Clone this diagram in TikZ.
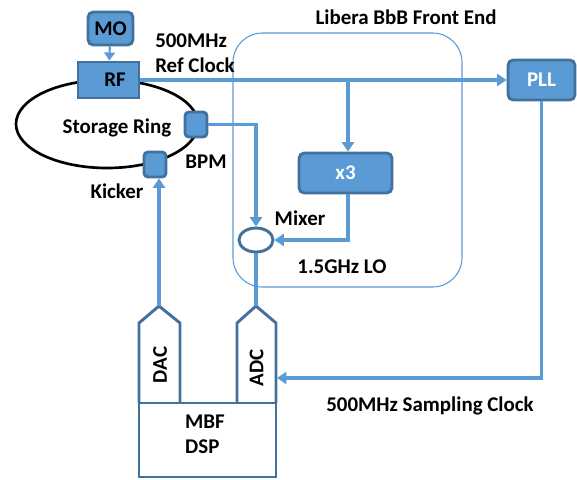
\documentclass[tikz,border=0pt]{standalone}
\usepackage{fontspec}
\setmainfont{Carlito}
\usetikzlibrary{arrows.meta,shapes.geometric}
\definecolor{boxfill}{HTML}{5B9BD5}
\definecolor{boxedge}{HTML}{41719C}
\definecolor{wire}{HTML}{5B9BD5}
\def\px{0.75pt}
\tikzset{
  lbl/.style={font=\fontsize{15.7}{18.5}\selectfont\bfseries, text=black, inner sep=0pt, align=left},
  blk/.style={draw=boxedge, fill=boxfill, line width=2.2pt, inner sep=0pt,
    font=\fontsize{15.7}{18.5}\selectfont\bfseries},
  wirel/.style={draw=wire, line width=2.3pt},
  arr/.style={wirel, -{Triangle[length=7pt,width=9pt]}},
}
\begin{document}
\begin{tikzpicture}[x=0.75pt,y=-0.75pt]
\useasboundingbox (0,0) rectangle (577,479);
% front end enclosure
\draw[draw=wire, line width=0.8pt, rounded corners=22pt] (233,33) rectangle (462,287);
\node[lbl] (libera) at (406,17) {Libera BbB Front End};
% storage ring
\node[draw=black, line width=2pt, ellipse, minimum width=182*\px, minimum height=88*\px, inner sep=0pt] (ring) at (107,124) {};
\node[lbl] (ringlbl) at (117,128) {Storage Ring};
% blocks
\node[blk, rounded corners=4pt, minimum width=45*\px, minimum height=33*\px, text=black] (mo) at (110.5,28.5) {MO};
\node[blk, minimum width=61*\px, minimum height=36*\px, text=black, text width=61*\px, align=right] (rf) at (108.5,80) {RF\hspace*{10pt}};
\node[blk, rounded corners=3pt, minimum width=22*\px, minimum height=25*\px] (bpm) at (196,124.5) {};
\node[blk, rounded corners=3pt, minimum width=22*\px, minimum height=25*\px] (kick) at (155,164.5) {};
\node[blk, rounded corners=4pt, minimum width=67*\px, minimum height=40*\px, text=white] (pll) at (541.5,80) {PLL};
\node[blk, rounded corners=4pt, minimum width=93*\px, minimum height=40*\px, text=white] (x3) at (345.5,173) {x3};
\node[draw=boxedge, fill=white, line width=2.2pt, ellipse, minimum width=34*\px, minimum height=24*\px, inner sep=0pt] (mix) at (256,240) {};
% labels
\node[lbl] (refclk) at (195,53.5) {500MHz\\Ref Clock};
\node[lbl] (bpmlbl) at (206,162) {BPM};
\node[lbl] (kicklbl) at (117,191) {Kicker};
\node[lbl] (mixlbl) at (300,218) {Mixer};
\node[lbl] (lolbl) at (342,267) {1.5GHz LO};
\node[lbl] (samplbl) at (430,406) {500MHz Sampling Clock};
% converters and DSP
\draw[draw=boxedge, line width=2.2pt, line join=miter] (139,403) -- (139,323) -- (159,306) -- (180,323) -- (180,403);
\draw[draw=boxedge, line width=2.2pt, line join=miter] (237,403) -- (237,323) -- (256,306) -- (276,323) -- (276,403);
\coordinate (dactop) at (159,306);
\coordinate (adctop) at (256,306);
\coordinate (adcin) at (277,378);
\node[draw=boxedge, line width=2.2pt, minimum width=137*\px, minimum height=74*\px, inner sep=0pt] (dsp) at (207.5,440) {};
\node[lbl, rotate=90] (dac) at (160,365) {DAC};
\node[lbl, rotate=90] (adc) at (256.5,368) {ADC};
\node[lbl] (mbf) at (205,434.5) {MBF\\DSP};
% connectors
\draw[arr, -{Triangle[length=6pt,width=8pt]}, line width=1.6pt] (mo) -- (rf);
\draw[arr] (rf.east) -- (pll.west);
\coordinate (split) at (348,80);
\draw[arr] (split) -- (x3.north -| split);
\draw[arr] (x3.south -| split) |- (mix.east);
\draw[arr] (bpm.east) -| (mix.north);
\draw[wirel] (mix.south) -- (adctop);
\draw[arr] (dactop) -- (kick.south -| dactop);
\draw[arr] (pll.south) |- (adcin);
\end{tikzpicture}
\end{document}
